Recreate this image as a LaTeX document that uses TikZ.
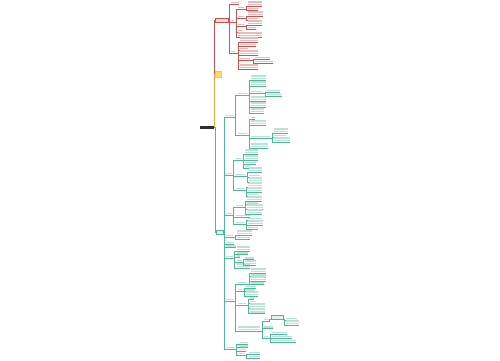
\documentclass[tikz,border=0pt]{standalone}
\usetikzlibrary{calc}
\definecolor{redline}{HTML}{D0504E}
\definecolor{gline}{HTML}{4DB896}
\definecolor{oline}{HTML}{F2A444}
\definecolor{yfill}{HTML}{FFD966}
\definecolor{rootfill}{HTML}{2E2E2E}
\tikzset{
  base/.style={anchor=south west, inner sep=0pt, outer sep=0pt},
  ul/.style={append after command={(\tikzlastnode.south west) edge[draw=#1, line width=0.35pt] (\tikzlastnode.south east)}},
  t1/.style={base, minimum height=2.5pt, ul=#1,
    path picture={\fill[#1!40] ([yshift=0.8pt]path picture bounding box.south west) rectangle (path picture bounding box.north east);}},
  t2/.style={base, minimum height=5.2pt, ul=#1,
    path picture={\fill[#1!40] ([yshift=0.8pt]path picture bounding box.south west) rectangle ([yshift=2.4pt]path picture bounding box.south east);
                  \fill[#1!40] ([yshift=3.3pt]path picture bounding box.south west) rectangle (path picture bounding box.north east);}},
  g1/.style={t1=gline}, g2/.style={t2=gline},
  r1/.style={t1=redline}, r2/.style={t2=redline},
  gc/.style={draw=gline, line width=0.4pt},
  rc/.style={draw=redline, line width=0.4pt},
  oc/.style={draw=oline, line width=0.6pt},
  rootbox/.style={base, fill=rootfill, minimum width=14pt, minimum height=3.5pt},
  redbox/.style={base, fill=redline!20, draw=redline, line width=0.4pt, minimum width=13pt, minimum height=3.5pt},
  greenbox/.style={base, fill=gline!20, draw=gline, line width=0.4pt, minimum width=7pt, minimum height=3.5pt},
  yelbox/.style={base, fill=yfill, draw=oline!70, line width=0.3pt, minimum width=6pt, minimum height=5.5pt},
  hibox/.style={base, fill=gline!15, draw=gline, line width=0.4pt, minimum width=12pt, minimum height=3.5pt},
}
\newcommand\lf[5]{\node[#1, minimum width={(#4-#3)*1pt}] (#2) at (#3,#5) {};}
\newcommand\cn[3][gc]{\draw[#1] (#2) -| ([xshift=-2pt]#3.south west) -- (#3.south west);}
\begin{document}
\begin{tikzpicture}[x=1pt,y=-1pt]
\fill[white] (0,0) rectangle (500,360);
\useasboundingbox (0,0) rectangle (500,360);

% main nodes
\node[rootbox] (R0) at (200,129) {};
\node[redbox] (RM) at (215,22) {};
\node[yelbox] (Y) at (215,77) {};
\node[greenbox] (GM) at (216,234) {};

\draw[rc] (R0.east) -| ([xshift=-1pt]RM.west) -- (RM.west);
\draw[oc] (R0.east) -| ([xshift=-1pt]Y.west) -- (Y.west);
\draw[gc] (R0.east) -| ([xshift=-1pt]GM.west) -- (GM.west);

% ---------------- red branch
\lf{r1}{ra}{231}{239}{4}
\lf{r1}{rb}{231}{234}{22}
\lf{r1}{rba}{238}{244}{9}
\lf{r2}{rbaA}{248}{262}{6}
\lf{r1}{rbaB}{248}{258}{10}
\lf{r1}{rbb}{238}{244}{18}
\lf{r2}{rbbA}{248}{263}{16}
\lf{r1}{rbbB}{248}{258}{20}
\lf{r1}{rbc}{238}{244}{26}
\lf{r2}{rbcA}{248}{262}{25}
\lf{r1}{rbcB}{248}{256}{29}
\lf{r1}{rbd}{238}{243}{32}
\lf{r2}{rbe}{238}{262}{37}
\lf{r1}{rc}{231}{235}{53}
\lf{r2}{rca}{240}{258}{42}
\lf{r1}{rcb}{240}{256}{46}
\lf{r1}{rcc}{240}{248}{50}
\lf{r2}{rcd}{240}{258}{55}
\lf{r1}{rce}{240}{250}{60}
\lf{r1}{rceA}{255}{270}{59}
\lf{r1}{rceB}{255}{273}{63}
\lf{r2}{rcf}{240}{258}{69}

\cn[rc]{RM.east}{ra}
\cn[rc]{RM.east}{rb}
\cn[rc]{RM.east}{rc}
\foreach \c in {rba,rbb,rbc,rbd,rbe} {\cn[rc]{rb.south east}{\c}}
\foreach \c in {rbaA,rbaB} {\cn[rc]{rba.south east}{\c}}
\foreach \c in {rbbA,rbbB} {\cn[rc]{rbb.south east}{\c}}
\foreach \c in {rbcA,rbcB} {\cn[rc]{rbc.south east}{\c}}
\foreach \c in {rca,rcb,rcc,rcd,rce,rcf} {\cn[rc]{rc.south east}{\c}}
\foreach \c in {rceA,rceB} {\cn[rc]{rce.south east}{\c}}

% ---------------- green branch
% G1
\lf{g1}{Ga}{226}{234}{117}
\lf{g1}{Gaa}{237.5}{247}{95}
\lf{g2}{aA}{251}{266}{80}
\lf{g2}{aB}{251}{266}{86}
\lf{g1}{aC}{251}{262}{93}
\lf{g1}{aCa}{267}{280}{92}
\lf{g1}{aCb}{267}{282}{96}
\lf{g2}{aD}{251}{266}{101}
\lf{g2}{aE}{251}{266}{107}
\lf{g2}{aF}{251}{264}{113}
\lf{g1}{Gab}{237.5}{247}{135}
\lf{g1}{bA}{251}{255}{119}
\lf{g2}{bB}{251}{266}{125}
\lf{g1}{bC}{251}{270}{138}
\lf{g2}{bCa}{274}{288}{133}
\lf{g1}{bCb}{274}{286}{137}
\lf{g2}{bCc}{274}{290}{142}
\lf{g2}{bD}{251}{268}{148}
% G2
\lf{g1}{Gb}{226}{232}{175}
\lf{g1}{Gba}{235.5}{241}{160}
\lf{g2}{cA}{245}{258}{154}
\lf{g2}{cB}{245}{258}{160}
\lf{g1}{cC}{245}{256}{164}
\lf{g1}{cD}{245}{250}{168}
\lf{g1}{Gbb}{235.5}{245}{176}
\lf{g2}{dA}{249}{262}{172}
\lf{g1}{dB}{249}{260}{177}
\lf{g2}{dC}{249}{262}{182}
\lf{g1}{Gbc}{235.5}{244}{190}
\lf{g2}{eA}{248}{262}{187}
\lf{g2}{eB}{248}{262}{192}
\lf{g1}{eC}{248}{258}{196}
% G3
\lf{g1}{Gc}{226}{232}{215}
\lf{g1}{Gca}{235.5}{243}{207}
\lf{g2}{fA}{247}{262}{201}
\lf{g1}{fB}{247}{258}{204.5}
\lf{g2}{fC}{247}{263}{209}
\lf{g2}{fD}{247}{262}{214}
\lf{g1}{Gcb}{235.5}{250}{217}
\lf{g1}{Gcc}{235.5}{244}{224}
\lf{g1}{hA}{248}{262}{220}
\lf{g2}{hB}{248}{263}{225}
\lf{g1}{hC}{248}{258}{229}
% G4, G5, G6
\lf{g1}{Gd}{226}{233}{237}
\lf{g2}{iA}{237}{252}{235}
\lf{g1}{iB}{237}{250}{239}
\lf{g1}{Ge}{226}{234}{244}
\lf{g1}{Gf}{226}{236}{247.5}
% G7
\lf{g1}{Gg}{226}{233}{258}
\lf{g2}{jA}{236.5}{250}{251}
\lf{g1}{jB}{236.5}{248}{254.5}
\lf{g1}{jC}{236.5}{240}{257.5}
\lf{g1}{jD}{236.5}{242}{262}
\lf{g1}{jDa}{245}{254}{259.5}
\lf{g2}{jDb}{245}{256}{265}
\lf{g2}{jE}{236.5}{250}{268}
% G8
\lf{g1}{Gh}{226}{234}{301}
\lf{g1}{Gha}{237.5}{247}{284}
\lf{g2}{kA}{251}{266}{273}
\lf{g1}{kB}{251}{266}{276.5}
\lf{g2}{kC}{251}{266}{281}
\lf{g1}{kD}{251}{264}{284.5}
\lf{g1}{Ghb}{237.5}{242}{291}
\lf{g1}{lA}{246}{256}{288}
\lf{g1}{lB}{246}{255}{291.5}
\lf{g2}{lC}{246}{258}{296}
\lf{g1}{Ghc}{237.5}{246}{305}
\lf{g1}{mA}{250}{254}{299.5}
\lf{g1}{mB}{250}{256}{303}
\lf{g2}{mC}{250}{265}{308}
\lf{g2}{mD}{250}{265}{313.5}
\lf{g2}{Ghd}{237.5}{260}{331}
\lf{g1}{nA}{264}{268}{321}
\node[hibox] (Bx) at (271,319) {};
\lf{g1}{BxA}{286}{297}{320}
\lf{g2}{BxB}{286}{299}{325}
\lf{g1}{nB}{264}{273}{328.5}
\lf{g1}{nC}{264}{268}{338}
\lf{g1}{oA}{272}{287}{334}
\lf{g1}{oB}{272}{292}{338}
\lf{g1}{oC}{272}{296}{342}
% G9
\lf{g1}{Gi}{226}{235}{349}
\lf{g1}{pA}{238.5}{248}{344}
\lf{g1}{pB}{238.5}{248}{347.5}
\lf{g1}{pC}{238.5}{246}{351}
\lf{g1}{pD}{238.5}{245}{355}
\lf{g1}{qA}{248.5}{260}{354}
\lf{g1}{qB}{248.5}{260}{358}

% green connectors
\foreach \c in {Ga,Gb,Gc,Gd,Ge,Gf,Gg,Gh,Gi} {\cn{GM.east}{\c}}
\foreach \c in {Gaa,Gab} {\cn{Ga.south east}{\c}}
\foreach \c in {aA,aB,aC,aD,aE,aF} {\cn{Gaa.south east}{\c}}
\foreach \c in {aCa,aCb} {\cn{aC.south east}{\c}}
\foreach \c in {bA,bB,bC,bD} {\cn{Gab.south east}{\c}}
\foreach \c in {bCa,bCb,bCc} {\cn{bC.south east}{\c}}
\foreach \c in {Gba,Gbb,Gbc} {\cn{Gb.south east}{\c}}
\foreach \c in {cA,cB,cC,cD} {\cn{Gba.south east}{\c}}
\foreach \c in {dA,dB,dC} {\cn{Gbb.south east}{\c}}
\foreach \c in {eA,eB,eC} {\cn{Gbc.south east}{\c}}
\foreach \c in {Gca,Gcb,Gcc} {\cn{Gc.south east}{\c}}
\foreach \c in {fA,fB,fC,fD} {\cn{Gca.south east}{\c}}
\foreach \c in {hA,hB,hC} {\cn{Gcc.south east}{\c}}
\foreach \c in {iA,iB} {\cn{Gd.south east}{\c}}
\foreach \c in {jA,jB,jC,jD,jE} {\cn{Gg.south east}{\c}}
\foreach \c in {jDa,jDb} {\cn{jD.south east}{\c}}
\foreach \c in {Gha,Ghb,Ghc,Ghd} {\cn{Gh.south east}{\c}}
\foreach \c in {kA,kB,kC,kD} {\cn{Gha.south east}{\c}}
\foreach \c in {lA,lB,lC} {\cn{Ghb.south east}{\c}}
\foreach \c in {mA,mB,mC,mD} {\cn{Ghc.south east}{\c}}
\foreach \c in {nA,nB,nC} {\cn{Ghd.south east}{\c}}
\cn{nA.south east}{Bx}
\foreach \c in {BxA,BxB} {\cn{Bx.south east}{\c}}
\foreach \c in {oA,oB,oC} {\cn{nC.south east}{\c}}
\foreach \c in {pA,pB,pC,pD} {\cn{Gi.south east}{\c}}
\foreach \c in {qA,qB} {\cn{pD.south east}{\c}}
\end{tikzpicture}
\end{document}
